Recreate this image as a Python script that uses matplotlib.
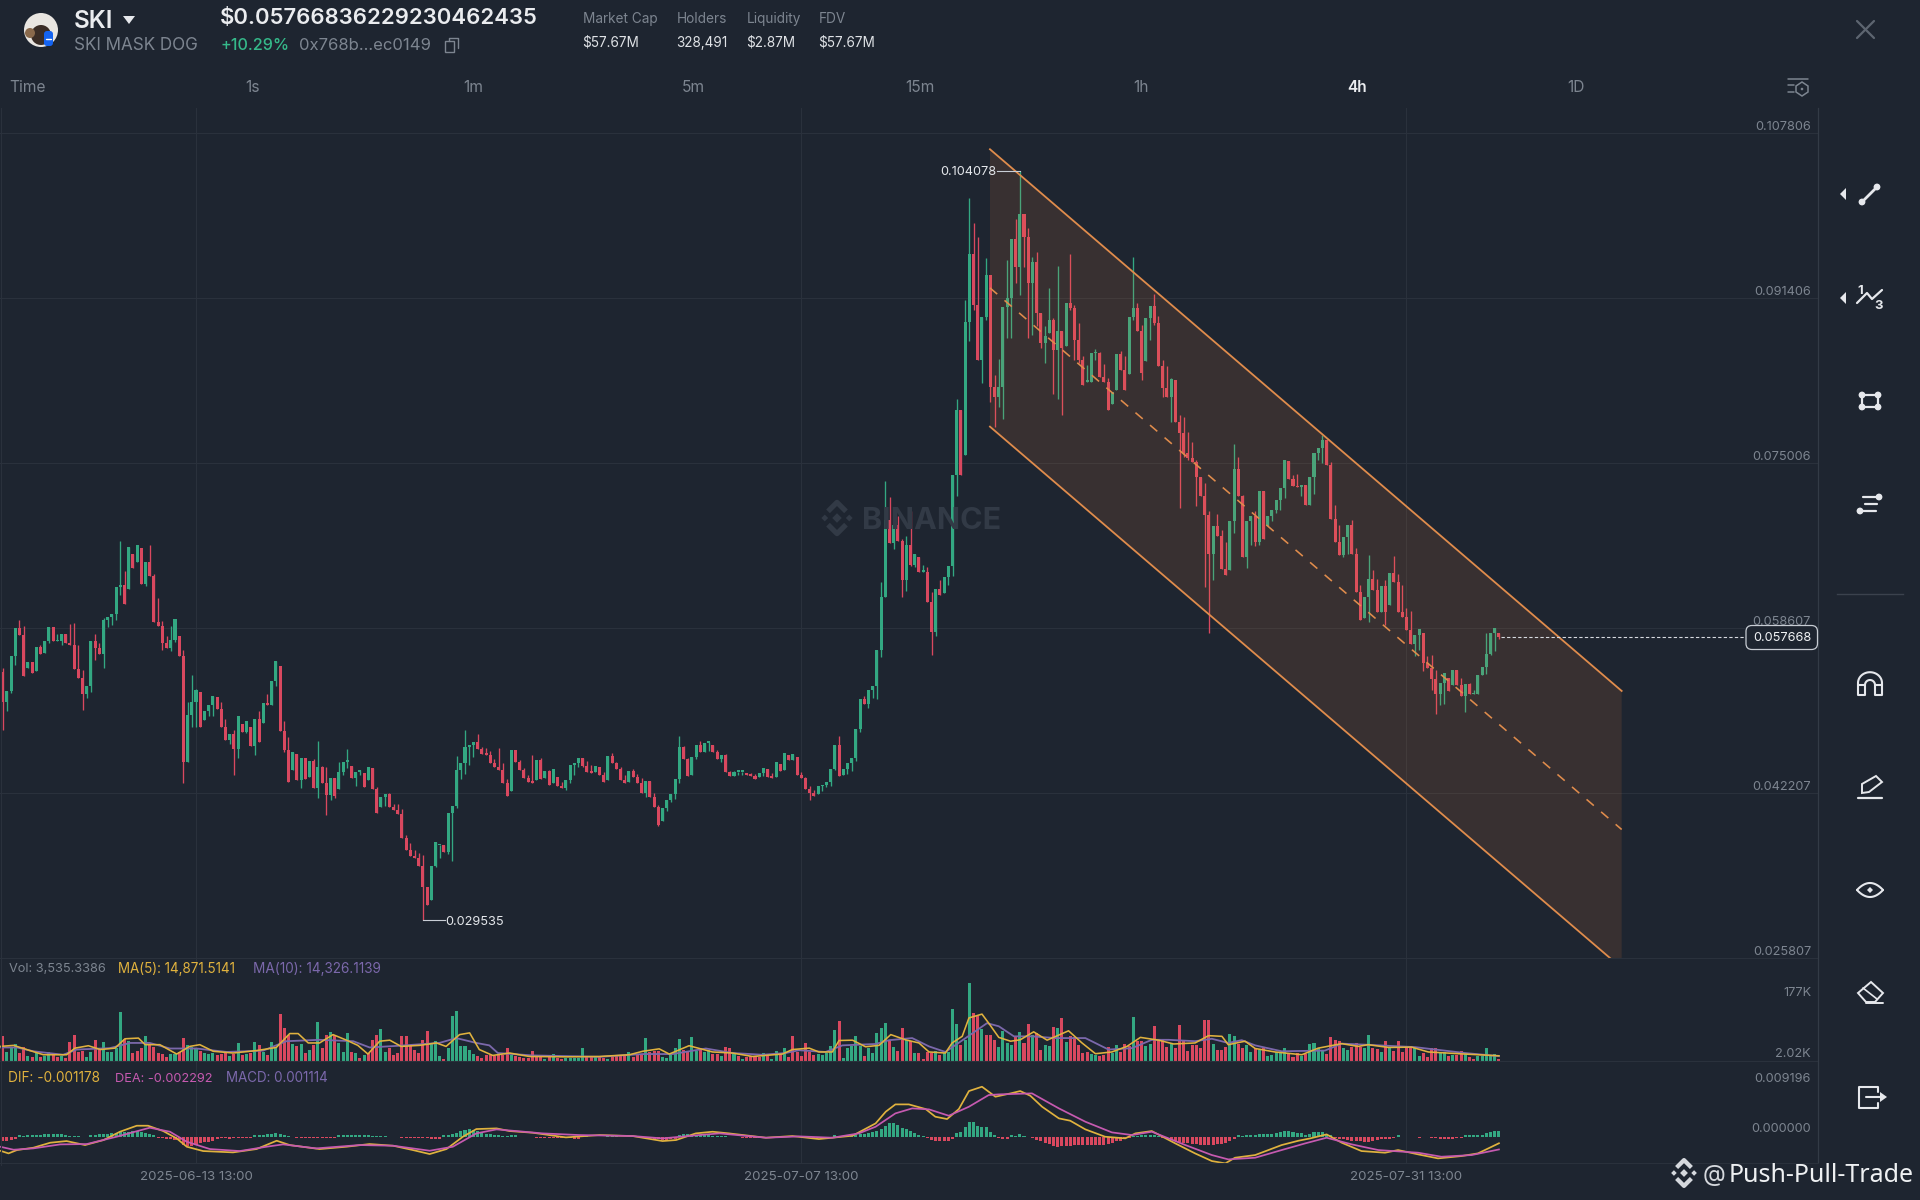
import matplotlib
matplotlib.use("Agg")
import matplotlib.pyplot as plt
import numpy as np
from matplotlib.patches import Circle, FancyBboxPatch, Polygon, Rectangle

# precios en unidades de 0.001
highs = [
    54.6,52.3,55.8,58.6,59.4,58.8,55.2,55.2,56.7,56.9, 57.3,58.7,58.7,58.0,58.0,58.0,59.0,59.1,56.9,54.4,
    52.8,57.3,58.0,57.1,59.6,59.7,60.0,62.7,67.3,64.3, 66.7,66.0,66.9,66.6,65.2,66.9,64.0,61.6,59.3,57.8,
    58.8,59.5,57.8,56.4,51.3,53.9,52.5,52.2,50.4,51.0, 51.8,51.7,51.3,49.6,48.1,48.5,49.9,49.1,49.4,48.8,
    49.6,50.4,51.2,52.0,53.3,55.3,54.8,49.4,47.8,46.3, 46.1,45.7,45.7,45.4,45.6,47.4,44.9,44.8,43.7,43.7,
    45.3,45.3,46.6,44.9,44.3,44.5,44.2,44.8,44.7,42.8, 41.8,42.1,42.2,41.1,41.1,40.6,38.0,37.2,36.5,36.2,
    36.0,32.9,35.0,37.3,37.0,37.0,40.2,40.9,45.9,45.2, 48.5,47.0,47.3,48.1,46.8,46.7,46.4,45.6,46.7,45.2,
    43.6,46.5,46.5,45.5,44.7,44.0,46.0,45.5,45.7,44.4, 44.5,44.6,43.8,43.3,43.5,45.0,45.2,45.7,45.7,45.4,
    45.0,44.9,44.8,44.3,45.9,46.2,45.3,44.8,44.0,44.4, 44.6,44.1,43.7,43.4,43.4,42.2,41.0,40.7,41.5,42.1,
    43.6,47.9,46.9,45.7,45.8,47.0,47.4,47.2,47.3,47.0, 46.5,46.0,46.1,44.4,44.4,44.3,44.3,44.2,44.2,44.1,
    44.2,44.7,44.6,44.2,45.3,45.1,46.2,46.0,46.1,45.8, 44.3,43.8,42.9,42.5,42.9,43.0,43.3,44.6,47.0,47.9,
    44.6,45.2,45.7,48.6,51.5,51.8,52.4,52.8,56.4,63.2, 73.2,71.6,68.8,69.7,67.5,67.8,70.2,66.0,65.7,64.9,
    64.7,62.2,62.5,63.4,63.7,64.8,73.8,81.4,80.3,91.2, 101.3,98.9,97.5,89.5,95.4,93.7,83.8,85.3,90.5,95.2,
    97.3,99.3,104.078,99.8,98.4,95.5,96.0,89.9,88.6,92.4, 89.4,94.6,88.1,90.9,95.8,90.7,88.9,85.6,84.7,85.9,
    86.3,86.0,84.8,83.5,82.1,85.8,86.1,85.6,89.5,95.5, 90.9,88.7,89.4,90.6,91.8,89.6,85.2,84.6,83.5,83.3,
    79.8,79.6,78.1,77.1,75.3,73.6,73.0,70.2,68.7,69.9, 68.3,67.2,69.2,76.9,75.6,71.8,69.2,69.7,70.2,72.2,
    72.2,69.7,70.3,71.3,72.5,75.3,75.2,73.8,73.9,72.8, 72.8,73.6,76.0,76.5,77.8,77.3,75.1,70.8,68.8,67.7,
    68.8,69.3,66.6,62.9,61.7,65.9,64.4,63.5,62.8,63.4, 64.1,65.8,64.0,62.9,60.6,60.3,57.9,58.5,58.1,55.8,
    55.9,54.4,53.1,54.1,53.6,54.4,54.4,53.6,53.0,53.1, 52.4,53.9,54.7,58.1,58.1,58.6,58.1,
]
lows = [
    48.5,50.4,52.1,54.9,57.9,53.8,54.6,54.1,54.3,56.0, 56.1,57.1,57.3,57.3,56.9,57.1,56.9,54.5,53.6,50.5,
    51.6,52.2,55.4,56.0,54.6,58.7,58.9,59.4,61.9,61.0, 62.5,64.6,65.2,63.0,62.8,63.8,59.2,58.8,56.4,56.6,
    56.3,57.2,55.8,43.2,45.3,48.8,48.8,48.8,49.5,49.9, 49.9,50.6,48.8,47.5,47.1,44.0,45.7,48.3,48.2,46.9,
    46.0,47.3,49.2,51.0,51.0,52.8,48.4,46.3,43.3,44.5, 43.5,42.7,43.6,43.8,42.7,41.7,43.2,40.0,41.5,41.7,
    42.6,44.0,44.7,43.7,42.9,44.0,42.8,43.5,42.6,40.2, 40.8,40.9,40.8,40.5,40.1,37.7,36.5,35.9,35.7,35.0,
    29.535,31.1,31.6,34.9,35.7,36.3,36.1,35.4,40.7,43.6, 44.1,45.0,45.8,46.6,46.1,46.0,45.2,44.8,44.5,43.2,
    41.9,42.4,45.3,44.5,43.7,43.3,43.2,43.5,43.6,43.7, 43.0,43.2,42.9,42.7,42.5,43.2,44.0,44.8,44.8,44.3,
    44.2,44.3,44.0,43.3,43.5,45.2,44.6,43.5,43.2,43.3, 43.8,43.2,42.2,41.8,41.8,40.8,38.9,39.4,40.4,41.3,
    41.6,43.2,45.6,43.9,44.0,45.6,46.3,46.3,46.4,46.3, 45.6,45.3,44.3,43.9,43.9,44.0,44.0,44.0,43.9,43.6,
    43.8,43.9,43.8,43.7,43.8,44.4,44.5,45.5,45.5,44.0, 43.7,42.6,41.5,41.9,42.1,42.4,42.8,42.9,44.5,43.9,
    44.0,44.1,44.4,45.4,48.3,51.1,50.7,51.6,51.5,55.7, 61.7,67.1,66.5,67.3,61.7,62.3,64.8,64.7,64.2,64.2,
    61.2,55.9,57.8,61.9,62.1,62.9,63.8,71.7,73.8,75.8, 87.1,90.2,85.2,83.0,89.2,81.1,78.6,80.6,79.4,87.4,
    87.4,92.9,91.7,94.5,87.4,87.7,88.6,86.4,84.9,87.9, 81.9,81.4,79.8,86.6,90.2,85.2,84.9,82.8,83.1,83.1,
    85.2,83.6,83.1,80.3,80.9,82.3,84.2,82.3,83.9,89.2, 88.1,83.3,85.1,87.2,88.7,84.6,81.6,81.6,79.1,79.1,
    70.5,75.6,75.3,75.1,70.7,71.7,62.7,58.1,63.4,67.8, 64.5,63.9,64.4,68.0,71.7,65.7,64.6,66.9,66.8,66.9,
    67.5,68.7,69.2,70.0,70.3,71.5,73.4,72.7,72.6,71.7, 70.8,70.8,71.9,75.3,75.0,74.8,69.4,67.2,65.9,65.7,
    66.0,66.0,62.2,59.4,59.6,59.2,62.4,60.2,60.2,58.9, 60.9,63.2,60.2,59.7,58.4,57.0,55.8,56.4,54.3,54.6,
    52.4,50.1,51.0,51.1,52.3,52.9,52.9,51.8,50.3,52.0, 52.0,52.0,53.9,54.0,55.9,56.3,57.5,
]
closes = [
    51.3,52.3,55.8,58.6,57.9,53.8,55.2,54.1,56.7,56.0, 57.3,58.7,57.3,57.3,58.0,57.1,56.9,54.5,53.6,52.0,
    52.8,57.3,56.6,56.0,59.4,59.7,60.0,62.7,62.9,61.0, 66.7,64.6,66.9,63.0,65.2,63.8,59.2,58.8,57.1,56.6,
    57.4,59.5,55.8,45.3,50.0,51.3,52.4,48.8,50.4,51.0, 51.8,50.6,48.8,47.5,48.1,46.6,49.9,48.3,49.4,46.9,
    49.6,47.3,51.2,51.0,53.3,55.3,48.4,46.5,43.3,46.3, 43.5,45.7,43.6,45.4,42.7,44.8,43.2,42.0,43.7,41.9,
    44.3,45.3,45.4,43.7,44.3,44.5,42.8,44.8,42.6,40.2, 41.8,42.1,40.8,40.5,40.1,37.7,36.5,35.9,35.7,35.0,
    32.9,31.1,35.0,37.3,37.0,36.3,40.2,40.9,44.5,45.2, 46.8,47.0,47.3,46.6,46.1,46.0,45.2,44.8,44.5,43.2,
    41.9,46.5,45.3,44.5,43.7,43.3,43.2,45.5,43.6,44.4, 43.0,44.6,42.9,42.7,43.5,45.0,45.2,45.7,44.9,44.3,
    44.2,44.9,44.0,43.3,45.9,45.2,44.6,43.5,43.2,44.4, 43.8,43.2,42.2,43.4,41.8,40.8,39.0,40.7,41.5,42.1,
    43.6,46.8,45.6,43.9,45.8,47.0,46.3,47.2,47.3,46.3, 45.6,46.0,44.3,43.9,44.3,44.3,44.3,44.0,43.9,43.6,
    44.2,44.7,43.8,43.7,45.3,44.4,46.2,45.5,46.1,44.0, 43.7,42.6,42.2,41.9,42.9,43.0,43.3,44.6,47.0,43.9,
    44.6,45.2,45.7,48.6,51.5,51.1,52.4,52.8,56.4,61.7, 69.3,67.1,68.8,67.3,63.4,66.9,64.9,66.0,64.2,64.2,
    61.2,58.2,62.5,61.9,63.7,64.8,73.8,80.3,73.8,89.0, 95.8,90.7,85.2,89.5,93.7,82.6,81.6,82.6,90.5,91.4,
    97.3,94.5,99.8,97.5,92.9,95.0,89.9,86.9,87.6,89.2, 86.2,88.1,86.4,90.9,90.4,87.2,85.2,82.8,83.1,85.9,
    85.9,83.6,83.1,80.3,82.1,85.8,84.2,82.3,89.5,90.4, 88.1,84.0,89.4,90.6,88.9,84.6,82.5,81.6,83.4,79.1,
    78.0,76.0,75.5,75.1,73.6,71.7,69.8,66.0,68.7,67.8, 64.5,63.9,69.2,74.4,71.7,65.7,69.2,69.7,67.2,72.2,
    67.5,69.7,70.3,71.3,72.5,75.3,73.4,72.7,72.6,72.8, 70.8,73.6,76.0,76.5,77.3,74.8,69.4,67.2,65.9,67.7,
    68.8,66.0,62.2,59.4,61.7,63.5,62.4,60.2,62.8,60.2, 64.1,63.2,60.2,59.7,58.4,57.0,57.9,58.5,55.1,54.6,
    53.5,52.0,53.1,54.1,52.3,54.4,52.9,51.8,53.0,52.0, 52.0,53.9,54.7,56.0,58.1,58.6,57.668,
]
first_open = 54.2

# volumen en miles
volume_k = [
    73,26,36,49,23,39,13,11,23,11, 15,26,21,11,13,9,54,76,26,28, 12,26,60,36,55,26,25,36,140,64,
    59,23,30,36,73,49,39,23,21,11, 20,20,26,66,45,39,37,30,23,20, 23,18,20,23,13,20,53,18,20,23,
    54,45,26,18,54,37,135,95,76,50, 42,50,23,33,45,111,36,76,84,76, 51,26,82,26,23,9,16,23,61,76,
    93,26,37,18,23,71,71,45,33,23, 61,87,49,57,13,7,36,129,145,42, 42,33,20,13,9,18,16,13,20,18,
    36,
    18,15,11,9,9,28,11,11,7,11, 20,9,6,9,9,9,9,36,13,11, 13,11,9,7,11,13,15,18,25,11,
    18,20,66,26,28,28,11,9,16,36, 64,33,30,68,30,36,26,33,20,20, 15,39,36,20,13,7,11,13,13,11,
    23,15,7,30,20,37,11,71,26,13, 52,26,18,20,18,23,42,90,114,9, 36,42,71,42,15,36,23,81,95,109,
    59,39,30,95,61,59,23,23,7,26, 23,28,18,23,26,151,107,45,61,225, 138,129,93,76,76,61,39,85,52,
    45,71,84,52,107,76,81,33,45,42, 97,95,124,55,71,68,47,23,26,21, 18,13,18,39,23,47,26,50,42,126,
    57,59,42,49,100,60,60,39,49,37, 103,57,30,45,47,36,117,117,49,33, 33,39,78,71,49,36,47,25,36,33,
    36,15,18,25,26,37,21,12,23,15, 20,50,52,36,33,21,68,60,57,37, 33,39,52,39,37,76,36,34,26,59,
    39,28,57,26,39,37,39,15,23,12, 37,36,26,26,15,16,18,30,20,12, 7,15,15,37,15,20,6,
]
volume_side = (
    "rgggrrgrgr" "ggrrgrrrrr" "ggrrgggggr" "grrrgrrrrr" "ggrrgggrgg" "grrrgrgrgr"
    "grgrggrrrg" "rgrgrgrrgr" "gggrgrgrrr" "ggrrrrrrrr" "rrgggrgggg" "gggrrrrrrr" "r"
    "grrrrrrrgr" "grrgggggrr" "grrgrrrrgr" "rrgrrrgggg" "grrggrggrr" "grrgrgrrrr"
    "grggrgrrrr" "rrrgggggrg" "ggggrggggg" "rgrrgrgrrr" "rgrggggrgg" "rrgrrrggg"
    "grgrrgrrgg" "rgrgrrrrrg" "grrrggrrrg" "rrggrrrrgr" "rrrrrrrrgr" "rrggrrggrg"
    "rgggggrrrg" "rggggrrrrg" "grrrggrrgr" "grrrrrggrr" "rrggrgrrgr" "rgggggr"
)
ma5_idx = [
    -0.6,2.6,5.7,9.7,15.2,17.2,20.4,23.2,26.7,29.1,32.3,33.9,37.4,41.4,44.5,46.9,50.1,54.8,60.4,65.1,
    68.3,70.3,72.7,75.4,78.6,81.8,84.5,86.9,89.7,92.1,94.8,99.2,103.2,105.5,108.7,111.1,113.4,116.6,120.6,
    125.3,134,142,149.1,152.3,156.2,158.6,163.3,168.9,173.6,178.4,185.5,187.9,191.9,194.2,197.4,199,202.2,
    205.3,208.5,211.3,214.8,218,220.4,224.3,225.9,228.3,229.9,233,234.6,237,
    239.8,242.1,245.3,248.5,253.6,256.8,260,263.9,267.5,270.7,275,278.6,283.7,286.9,290.1,291.6,295.6,298,
    302.7,309.1,313,318.6,322.5,324.9,329.7,335.2,339.2,347.9,356,
]
ma5_vals = [
    42,45,33,18,18,37,44,33,37,64,66,47,47,20,42,47,28,23,30,39,
    79,79,52,52,76,60,45,20,57,60,42,45,52,42,76,81,33,16,23,
    13,12,13,18,28,35,20,44,26,23,13,20,33,37,26,26,59,60,
    41,45,76,61,52,26,23,52,71,124,135,109,68,
    57,61,84,60,87,52,21,26,42,68,60,49,52,73,71,47,57,36,
    26,18,37,50,42,47,39,40,26,20,15,
]
ma10_idx = [
    -0.6,3.4,7.3,14.4,17.6,25.5,30.3,35,39.8,46.1,53.3,62,67.5,75.4,83.4,87.3,94.4,103.9,107.9,112.7,115.8,117.8,
    126.1,142,152.3,159.4,167.3,173.6,180.8,186.3,189.5,195.8,199.8,207.7,210.9,216.4,220.4,224.3,229.1,234.2,237,
    240.6,244.9,250.5,257.6,263.1,268.7,273.4,277.4,283.7,287.7,291.6,294.8,298,304.3,314.6,318.6,324.1,336,347.9,356,
]
ma10_vals = [
    39,39,28,18,33,37,52,52,36,36,26,30,57,61,57,39,44,52,66,52,45,23,
    16,12,20,20,36,23,18,23,31,26,45,49,60,66,42,26,66,109,100,
    71,71,66,66,33,37,61,61,57,64,52,60,45,28,30,50,47,40,23,14,
]

macd_bars = [
    -.72,-.72,-.6,-.48,.3,.06,.36,.36,.36,.36, .42,.48,.54,.48,.48,.24,.18,.18,.18,-.12,
    -.12,.36,.36,.42,.48,.54,.6,.72,.84,.84, .9,1.02,.96,.78,.6,.48,.3,-.18,-.24,-.36,
    -.42,-.54,-.66,-1.44,-1.68,-1.62,-1.44,-1.2,-1.02,-.9, -.72,-.48,-.24,-.24,-.36,-.24,-.3,-.3,-.3,-.3,
    .36,.36,.36,.42,.54,.66,.48,.24,.12,-.12, -.18,-.18,-.18,-.18,-.18,-.24,-.24,-.24,-.24,-.3,
    .36,.36,.36,.36,.36,.36,.3,.3,.12,.12, .18,.18,-.12,-.12,-.12,-.18,-.18,-.18,-.18,-.24,
    -.24,-.24,-.36,-.36,-.36,.3,.36,.54,.72,.96, 1.2,1.32,1.2,.96,.66,.54,.42,.3,.24,.18,
    .12,
    .3,.24,-.06,-.12,-.12,-.12,-.18,-.18,-.18,-.18, -.18,-.18,-.24,-.3,-.3,-.36,-.36,.12,.06,-.06,
    -.06,-.06,-.06,.18,.18,.12,-.06,-.12,-.12,-.12, -.12,-.18,-.18,-.24,-.36,-.48,-.6,-.6,-.48,-.48,
    .36,.42,.48,.36,.24,.24,.24,.24,.18,.18, .18,.12,-.06,-.06,-.12,-.18,-.18,-.18,-.18,-.18,
    -.18,-.18,-.18,-.18,-.18,.18,.18,.18,.12,-.06, -.12,-.12,-.18,-.18,-.18,-.18,-.12,.3,.18,.18,
    .18,.18,.24,.42,.54,.66,.78,1.08,1.44,1.92, 2.46,2.46,2.04,1.62,1.38,1.02,.6,.36,.12,-.3,
    -.54,-.72,-.72,-.84,-.72,-.36,.72,.84,1.68,2.58, 2.58,1.98,1.74,1.74,.78,.24,-.3,-.36,-.36,
    .36,.06,.42,.18,-.06,-.18,-.6,-.84,-1.08,-1.32, -1.68,-1.8,-1.68,-1.62,-1.62,-1.5,-1.5,-1.5,-1.56,-1.56,
    -1.56,-1.5,-1.44,-1.32,-1.08,-.78,-.72,-.48,-.24,.12, .18,.24,.3,.3,.3,.12,-.3,-.48,-.6,-.78,
    -.9,-1.08,-1.2,-1.32,-1.38,-1.44,-1.5,-1.5,-1.56,-1.32, -1.32,-1.08,-.84,-.48,.24,.12,.24,.3,.3,.42,
    .42,.48,.54,.6,.78,1.02,1.08,.9,.72,.6, .36,.42,.78,.9,.9,.54,.24,-.3,-.42,-.48,
    -.66,-.72,-.72,-.78,-.9,-.9,-.78,-.66,-.48,-.42, -.36,-.24,.24,-.06,-.12,-.12,-.06,-.18,-.12,-.12,
    -.18,-.3,-.42,-.48,-.36,-.36,-.3,-.24,.3,.3, .3,.3,.36,.66,.9,1.08,1.114,
]
dif_idx = [
    -0.6,1.4,3.4,7.3,11.3,15.2,19.6,24,27.9,31.9,34.6,38.2,41.4,43.8,47.7,54.8,60.4,65.2,68.3,75.4,81.8,87.3,92.9,97.6,
    101.6,105.6,109.5,112.7,117.5,120.6,
    126.1,134,142,149.9,157,160.2,164.9,168.9,172.8,181.6,187.9,194.2,202.2,207.7,210.1,212.4,215.6,219.6,221.9,224.7,
    227.5,229.9,233,236.2,
    239.8,242.1,244.5,247.3,251.3,254,257.6,262.3,267.1,269.5,273.4,279,283.7,287.7,290.9,293.2,298,304.3,308.3,311.1,
    315,318.6,323.3,328.9,332,336.8,341.5,347.1,351,356,
]
dif_vals = [
    -2.52,-3.0,-2.4,-1.98,-1.08,-.78,-1.5,-.6,.9,1.98,1.98,1.02,-.3,-1.8,-2.58,-2.82,-2.22,-.72,-1.5,-2.22,-1.8,-1.32,-1.62,-2.4,
    -3.12,-2.22,0,1.38,1.5,1.02,
    .72,-.12,.3,.12,-.78,-.6,.6,.9,.6,-.18,.12,-.42,.18,2.4,4.5,5.82,5.82,4.98,3.6,3.18,
    4.98,8.22,9.0,7.2,
    7.8,8.22,7.38,5.4,3.3,2.88,1.32,0,-.3,.6,1.02,-1.2,-3,-4.38,-4.8,-3.78,-3.3,-1.5,-.72,-.3,
    .42,-1.08,-2.58,-2.88,-2.4,-3.18,-3.9,-3.48,-3,-1.178,
]
dea_idx = [
    -0.6,2.6,7.3,13.7,20,27.1,35,39.8,43.8,49.3,56.4,62.8,66.7,74.6,84.9,92.9,101.6,107.1,112.7,117.5,
    122.2,128.5,137.2,149.9,157,165.7,170.5,181.6,189.5,197.4,203.7,207.7,212.4,216.4,220.4,225.1,229.9,234.6,
    237,244.9,251.3,257.6,263.9,268.7,273.4,281.4,287.7,291.6,298,304.3,309.9,315,321,327.3,336.8,342.3,349.5,356,
]
dea_vals = [
    -1.8,-2.34,-2.1,-1.38,-1.32,0,1.62,.9,-.9,-2.22,-2.58,-1.8,-1.38,-2.1,-1.5,-1.62,-2.52,-1.8,.6,1.32,
    1.02,.6,.3,.12,-.3,.3,.6,-.18,.06,-.18,.6,1.8,4.2,5.1,4.92,3.78,5.4,7.5,
    7.62,7.8,5.1,2.7,.78,.3,.9,-1.5,-3.3,-4.08,-3.78,-2.4,-1.2,-.18,-1.38,-2.4,-2.88,-3.6,-3.3,-2.292,
]

# canal dibujado: indice de vela y precios
channel_idx = [234.9, 385.2]
channel_top = [106.19, 52.35]
channel_mid = [92.41, 38.58]
channel_bot = [78.62, 24.81]

price_ticks = [107.806, 91.406, 75.006, 58.607, 42.207, 25.807]
price_labels = ["0.107806", "0.091406", "0.075006", "0.058607", "0.042207", "0.025807"]
date_idx = [46, 190, 334]
date_labels = ["2025-06-13 13:00", "2025-07-07 13:00", "2025-07-31 13:00"]
tabs = ["Time", "1s", "1m", "5m", "15m", "1h", "4h", "1D"]
tab_pos = [9, 253, 473, 693, 920, 1141, 1357, 1576]
stat_names = ["Market Cap", "Holders", "Liquidity", "FDV"]
stat_vals = ["$57.67M", "328,491", "$2.87M", "$57.67M"]
stat_pos = [583, 677, 747, 819]

BG = "#1e2530"
GRID = "#2a313c"
GREEN = "#33a882"
RED = "#d9485f"
ORANGE = "#e08c4c"
GREY = "#7d8590"
YELLOW = "#e0b23e"
PURPLE = "#7b68ab"
PINK = "#c65ab0"
W, H = 1920, 1200
SCALE_X0, SCALE_DX = 2.67, 4.203
DIV_X = 1818

plt.rcParams["font.family"] = ["Inter", "DejaVu Sans"]
fig = plt.figure(figsize=(19.2, 12), dpi=100, facecolor=BG)


def panel(top, bottom):
    a = fig.add_axes([0, 1 - bottom / H, DIV_X / W, (bottom - top) / H], facecolor="none")
    a.set_xlim(-SCALE_X0 / SCALE_DX, (DIV_X - SCALE_X0) / SCALE_DX)
    a.axis("off")
    for d in date_idx:
        a.axvline(d, color=GRID, lw=0.8, zorder=0)
    return a


# velas
ax = panel(108, 958)
ax.set_ylim(25.807, 110.29)
for t in price_ticks:
    ax.axhline(t, color=GRID, lw=0.8, zorder=0)

highs_a = np.array(highs)
lows_a = np.array(lows)
closes_a = np.array(closes)
opens_a = np.clip(np.r_[first_open, closes_a[:-1]], lows_a, highs_a)
xs = np.arange(len(closes_a))
cols = np.where(closes_a >= opens_a, GREEN, RED)
ax.vlines(xs, lows_a, highs_a, colors=cols, lw=0.95, zorder=2)
ax.bar(xs, np.maximum(np.abs(closes_a - opens_a), 0.15), bottom=np.minimum(opens_a, closes_a),
       width=0.72, color=cols, lw=0, zorder=2)

# canal
ax.fill([channel_idx[0], channel_idx[1], channel_idx[1], channel_idx[0]],
        [channel_top[0], channel_top[1], channel_bot[1], channel_bot[0]],
        color="#f5863b", alpha=0.12, lw=0, zorder=3)
ax.plot(channel_idx, channel_top, color=ORANGE, lw=1.3, zorder=4)
ax.plot(channel_idx, channel_bot, color=ORANGE, lw=1.3, zorder=4)
ax.plot(channel_idx, channel_mid, color=ORANGE, lw=1.15, dashes=(6, 6), zorder=4)

# maximo, minimo y precio actual
hi_i, lo_i = int(np.argmax(highs_a)), int(np.argmin(lows_a))
ax.plot([hi_i - 5.5, hi_i], [highs_a[hi_i]] * 2, color="#c9ced6", lw=0.8, zorder=5)
ax.text(hi_i - 5.6, highs_a[hi_i] - 0.12, "0.104078", ha="right", va="center", fontsize=9.2, color="#e4e7eb", zorder=6)
ax.plot([lo_i, lo_i + 5.2], [lows_a[lo_i]] * 2, color="#c9ced6", lw=0.8, zorder=5)
ax.text(lo_i + 5.3, lows_a[lo_i] - 0.12, "0.029535", ha="left", va="center", fontsize=9.2, color="#e4e7eb", zorder=6)
ax.plot([xs[-1] + 0.4, (1746 - SCALE_X0) / SCALE_DX], [57.668, 57.668], color="#d7dae0", lw=0.8,
        dashes=(3, 2), zorder=5)

# volumen
ax_vol = panel(958, 1061)
ax_vol.set_ylim(0, 296.6)
vol_x = np.arange(len(volume_k))
vol_cols = [GREEN if s == "g" else RED for s in volume_side]
ax_vol.bar(vol_x, volume_k, width=0.72, color=vol_cols, lw=0, zorder=2)
ax_vol.plot(ma10_idx, ma10_vals, color=PURPLE, lw=1.3, zorder=3)
ax_vol.plot(ma5_idx, ma5_vals, color=YELLOW, lw=1.15, zorder=4)

# MACD
ax_macd = panel(1061, 1163)
ax_macd.set_ylim(-4.73, 13.63)
bars_a = np.array(macd_bars)
ax_macd.bar(np.arange(len(bars_a)), bars_a, width=0.72,
            color=np.where(bars_a >= 0, GREEN, RED), lw=0, zorder=2)
ax_macd.plot(dif_idx, dif_vals, color=YELLOW, lw=1.25, zorder=3)
ax_macd.plot(dea_idx, dea_vals, color=PINK, lw=1.25, zorder=4)

# capa de interfaz en pixeles
ov = fig.add_axes([0, 0, 1, 1], facecolor="none")
ov.set_xlim(0, W)
ov.set_ylim(H, 0)
ov.axis("off")


def put(x, y, s, size, color=GREY, ha="left", weight="normal", z=10):
    ov.text(x, y + 2, s, fontsize=size, color=color, ha=ha, va="center", fontweight=weight, zorder=z)


def line(xx, yy, color="#e6e8ec", lw=1.6):
    ov.plot(xx, yy, color=color, lw=lw, solid_capstyle="round", zorder=10)


def diamond(cx, cy, r, color, z=10):
    ov.add_patch(Polygon([(cx - r, cy), (cx, cy - r), (cx + r, cy), (cx, cy + r)], color=color, lw=0, zorder=z))


def logo(cx, cy, r, color, z=10):
    diamond(cx, cy, r * 0.28, color, z)
    for dx, dy in [(-0.72, 0), (0.72, 0)]:
        diamond(cx + dx * r, cy + dy * r, r * 0.2, color, z)
    for sy in (-1, 1):
        ov.plot([cx - 0.42 * r, cx, cx + 0.42 * r], [cy + sy * 0.5 * r, cy + sy * 0.92 * r, cy + sy * 0.5 * r],
                color=color, lw=r * 0.22, zorder=z)


# separadores
for yy in (958, 1061, 1163):
    ov.plot([0, DIV_X], [yy, yy], color=GRID, lw=0.8, zorder=1)
ov.plot([DIV_X, DIV_X], [108, 1162], color="#333b46", lw=0.9, zorder=1)
ov.plot([1, 1], [108, 1165], color=GRID, lw=0.8, zorder=1)
ov.plot([1837, 1903], [594, 594], color="#3b424d", lw=1, zorder=1)

# cabecera
ov.add_patch(Circle((41, 30), 17, color="#e9e6e1", lw=0, zorder=9))
ov.add_patch(Circle((41, 35), 10, color="#3a2d26", lw=0, zorder=9))
ov.add_patch(Circle((30, 33), 5, color="#8a6a4c", lw=0, zorder=9))
ov.add_patch(FancyBboxPatch((44, 31), 9, 15, boxstyle="round,pad=0,rounding_size=3", color="#1463f0", lw=0, zorder=9))
line([46, 51], [39, 39], "#ffffff", 1)
put(74, 19.5, "SKI", 17.5, "#eaecef", weight="semibold")
ov.add_patch(Polygon([(123, 16), (135, 16), (129, 24)], color="#e6e8ec", lw=0, zorder=10))
put(74, 44, "SKI MASK DOG", 12.3, GREY)
put(220, 16, "$0.05766836229230462435", 15.9, "#eaecef", weight="semibold")
put(220, 44, "+10.29%", 11.7, "#35b98a", weight="medium")
put(299, 44, "0x768b...ec0149", 12, GREY)
ov.add_patch(Rectangle((445, 41), 9, 11, fill=False, ec=GREY, lw=1, zorder=10))
line([449, 449, 458, 458], [41, 38, 38, 48], GREY, 1)
for nm, val, px in zip(stat_names, stat_vals, stat_pos):
    put(px, 17, nm, 9.8, GREY)
    put(px - 1, 41, val, 9.8, "#dfe2e6")
for nm, px in zip(tabs, tab_pos):
    if nm == "Time":
        put(px, 86, nm, 11.2, GREY)
    elif nm == "4h":
        put(px, 86, nm, 11.2, "#eaecef", ha="center", weight="semibold")
    else:
        put(px, 86, nm, 11.2, GREY, ha="center")

# cerrar y ajustes
line([1857, 1874], [21, 38], "#5d6570", 1.6)
line([1857, 1874], [38, 21], "#5d6570", 1.6)
line([1788, 1808], [79, 79], GREY, 1.1)
line([1788, 1794], [85, 85], GREY, 1.1)
line([1788, 1794], [92, 92], GREY, 1.1)
ov.add_patch(Polygon([(1802, 82), (1808, 86), (1808, 92), (1802, 96), (1796, 92), (1796, 86)], fill=False, ec=GREY, lw=1.1, zorder=10))
ov.add_patch(Circle((1802, 89), 1.3, color=GREY, lw=0, zorder=10))

# etiquetas de ejes
for lbl, yy in zip(price_labels, [125, 290, 455, 620, 785, 950]):
    put(1811, yy, lbl, 9.2, GREY, ha="right")
ov.add_patch(FancyBboxPatch((1746, 625.5), 71.5, 24, boxstyle="round,pad=0,rounding_size=6",
                            fc=BG, ec="#c7ccd3", lw=0.9, zorder=9))
put(1811, 636, "0.057668", 9.2, "#f0f2f4", ha="right")
put(1811, 991, "177K", 9.2, GREY, ha="right")
put(1811, 1052, "2.02K", 9.2, GREY, ha="right")
put(1811, 1076.5, "0.009196", 9.2, GREY, ha="right")
put(1811, 1126.5, "0.000000", 9.2, GREY, ha="right")

# leyendas
put(9, 966.5, "Vol: 3,535.3386", 9.2, GREY)
put(118, 966.5, "MA(5): 14,871.5141", 9.7, YELLOW)
put(253, 966.5, "MA(10): 14,326.1139", 9.8, PURPLE)
put(8, 1076.5, "DIF: -0.001178", 9.8, YELLOW)
put(115, 1076.5, "DEA: -0.002292", 9.2, PINK)
put(226, 1076.5, "MACD: 0.001114", 9.7, PURPLE)
for d, lbl in zip(date_idx, date_labels):
    put(SCALE_X0 + d * SCALE_DX, 1175.5, lbl, 9.6, GREY, ha="center")

# marca de agua
logo(837, 518, 17, "#323a46", z=1)
ov.text(862, 521, "BINANCE", fontsize=22, fontweight="bold", color="#323a46", ha="left", va="center", zorder=1)

# iconos laterales
ic = "#e6e8ec"
ov.add_patch(Polygon([(1846, 188), (1846, 200), (1840, 194)], color=ic, lw=0, zorder=10))
ov.add_patch(Polygon([(1846, 292), (1846, 304), (1840, 298)], color=ic, lw=0, zorder=10))
line([1863, 1877], [201, 187], ic, 2)
ov.add_patch(Circle((1862, 202), 3.4, color=ic, lw=0, zorder=10))
ov.add_patch(Circle((1877, 187), 3.4, color=ic, lw=0, zorder=10))
line([1857, 1867, 1872, 1882], [303, 293, 299, 290], ic, 1.6)
ov.text(1860, 291, "1", fontsize=9.5, fontweight="bold", color=ic, ha="center", va="center", zorder=10)
ov.text(1879, 306, "3", fontsize=9.5, fontweight="bold", color=ic, ha="center", va="center", zorder=10)
ov.add_patch(Rectangle((1862, 395), 16, 12, fill=False, ec=ic, lw=1.6, zorder=10))
for cx, cy in [(1862, 395), (1878, 395), (1862, 407), (1878, 407)]:
    ov.add_patch(Circle((cx, cy), 3.4, color=ic, lw=0, zorder=10))
line([1863, 1878], [497, 497], ic, 1.6)
line([1865, 1877], [504, 504], ic, 1.6)
line([1860, 1876], [511, 511], ic, 1.6)
ov.add_patch(Circle((1879, 497), 3.4, color=ic, lw=0, zorder=10))
ov.add_patch(Circle((1860, 511), 3.4, color=ic, lw=0, zorder=10))
# iman
ang = np.linspace(np.pi, 0, 30)
line(1870 + 12 * np.cos(ang), 683 - 12 * np.sin(ang) * 0.9, ic, 1.5)
line(1870 + 5 * np.cos(ang), 685 - 5 * np.sin(ang), ic, 1.5)
line([1858, 1858, 1865, 1865, 1858], [683, 695, 695, 685, 685], ic, 1.5)
line([1882, 1882, 1875, 1875, 1882], [683, 695, 695, 685, 685], ic, 1.5)
# lapiz
line([1858, 1882], [798, 798], ic, 1.6)
ov.add_patch(Polygon([(1862, 784), (1876, 776), (1882, 782), (1869, 792), (1862, 793)], fill=False, ec=ic, lw=1.4, zorder=10))
# ojo
t = np.linspace(-1, 1, 30)
line(1870 + 13 * t, 890 - 7 * (1 - t ** 2), ic, 1.5)
line(1870 + 13 * t, 890 + 7 * (1 - t ** 2), ic, 1.5)
diamond(1870, 890, 3, ic)
# goma
ov.add_patch(Polygon([(1858, 993), (1871, 982), (1883, 993), (1875, 1002), (1866, 1002)], fill=False, ec=ic, lw=1.4, zorder=10))
line([1863, 1877], [988, 999], ic, 1.2)
line([1866, 1883], [1003, 1003], ic, 1.4)
# salir
line([1878, 1878, 1859, 1859, 1878, 1878], [1092, 1087, 1087, 1108, 1108, 1103], ic, 1.5)
line([1866, 1881], [1097, 1097], ic, 1.5)
ov.add_patch(Polygon([(1880, 1092), (1887, 1097), (1880, 1102)], color=ic, lw=0, zorder=10))

# firma abajo a la derecha
logo(1684, 1173, 14, "#d5d8dd", z=11)
ov.text(1703, 1175, "@", fontsize=17, color="#d5d8dd", ha="left", va="center", zorder=11)
ov.text(1729, 1175, "Push-Pull-Trade", fontsize=18, color="#eef0f2", ha="left", va="center", zorder=11,
        family=["Noto Sans", "DejaVu Sans"])

fig.savefig("out.png", dpi=100, facecolor=BG)
